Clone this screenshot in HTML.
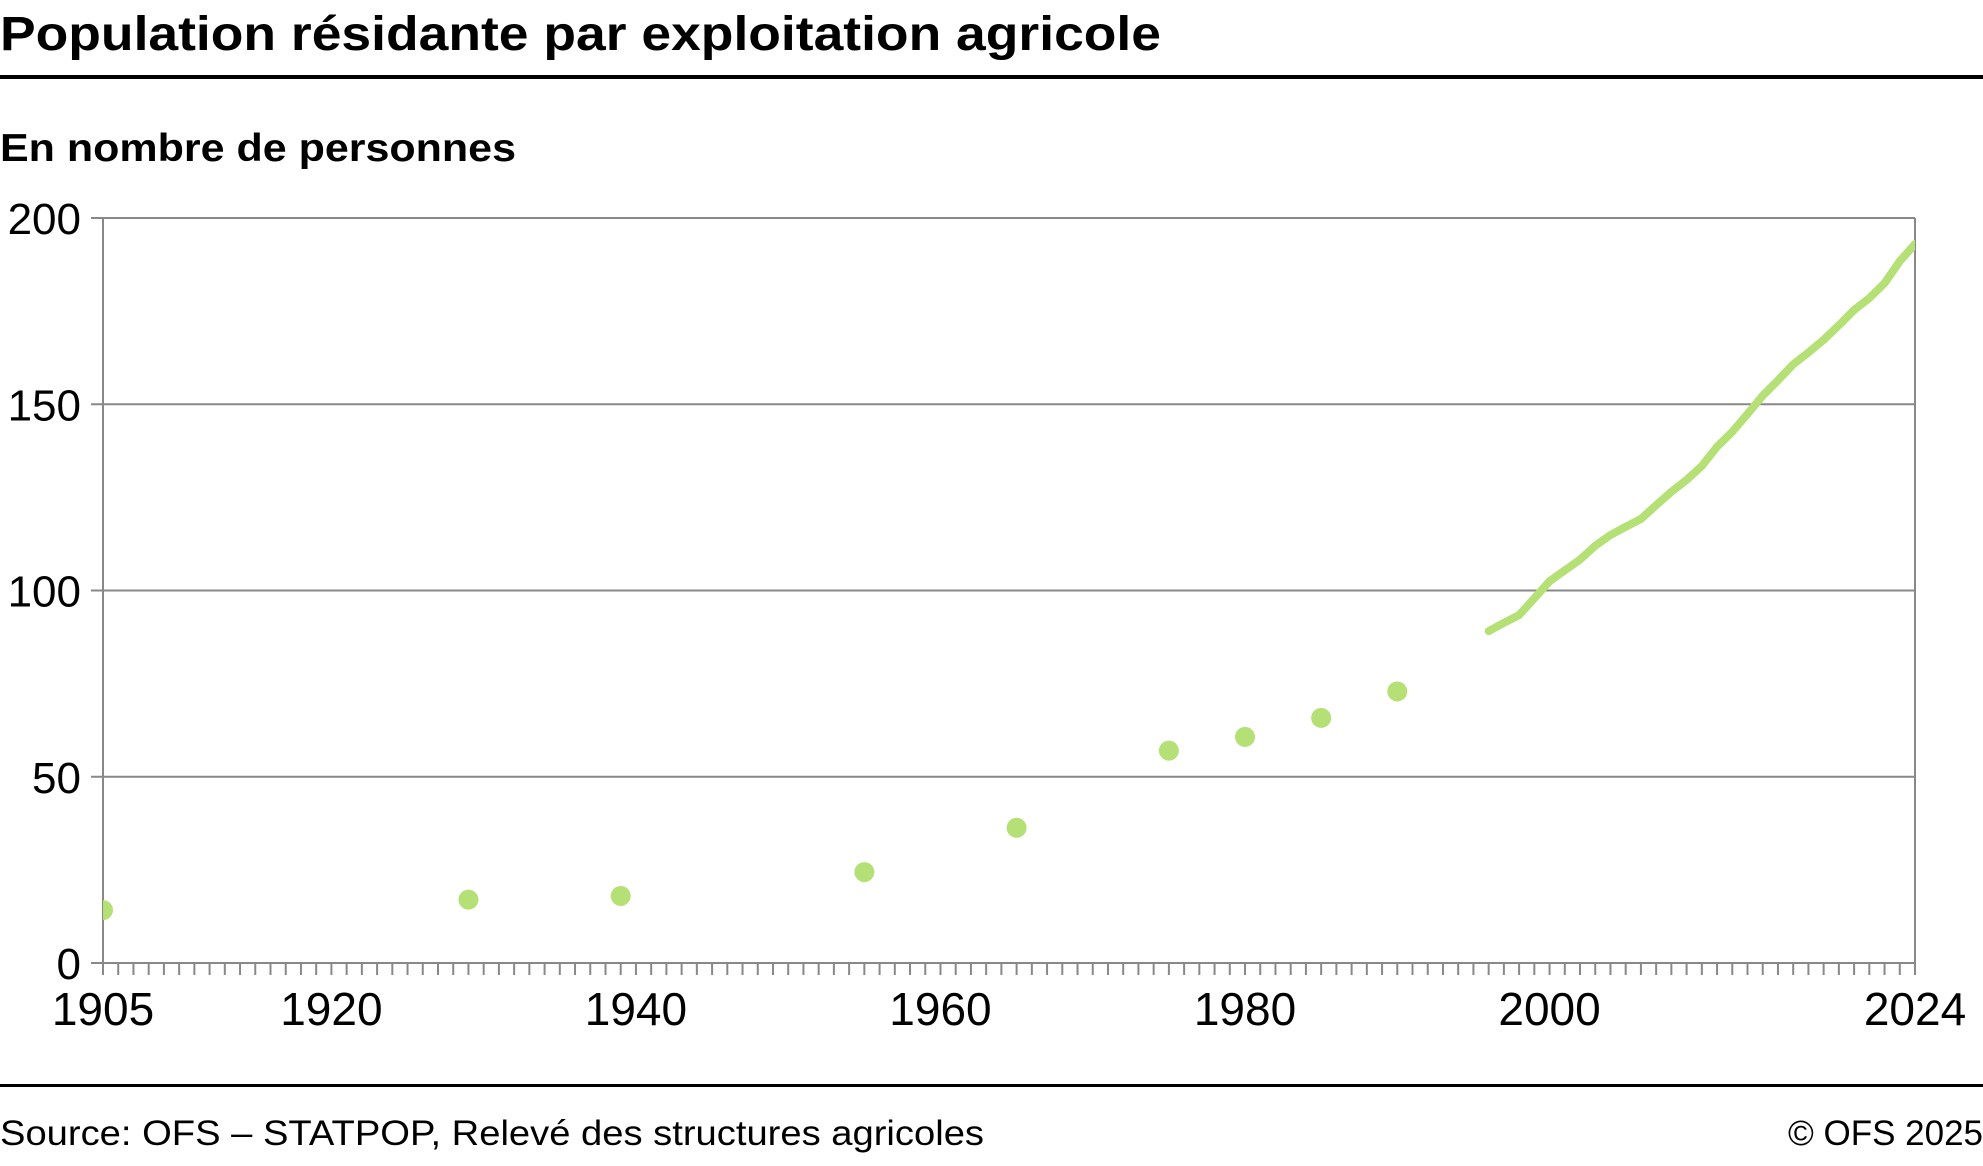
<!DOCTYPE html>
<html><head><meta charset="utf-8"><style>
body{margin:0;background:#fff;width:1983px;height:1161px;overflow:hidden;font-family:"Liberation Sans",sans-serif}
</style></head><body>
<svg id="c" width="1983" height="1161" xmlns="http://www.w3.org/2000/svg">
<text x="0" y="50" font-size="48" font-weight="bold" textLength="1161" lengthAdjust="spacingAndGlyphs" font-family="Liberation Sans, sans-serif">Population résidante par exploitation agricole</text>
<rect x="0" y="75" width="1983" height="4" fill="#000"/>
<text x="0" y="161" font-size="39" font-weight="bold" textLength="516" lengthAdjust="spacingAndGlyphs" font-family="Liberation Sans, sans-serif">En nombre de personnes</text>
<g id="grid"></g><g id="axes"></g><g id="marks"></g>
<rect x="0" y="1084" width="1983" height="3" fill="#000"/>
<text x="0" y="1145" font-size="35" textLength="984" lengthAdjust="spacingAndGlyphs" font-family="Liberation Sans, sans-serif">Source: OFS –  STATPOP, Relevé des structures agricoles</text>
<text x="1983" y="1145" text-anchor="end" font-size="35" font-family="Liberation Sans, sans-serif">© OFS 2025</text>
</svg>
<script>
const dotYears=[1905,1929,1939,1955,1965,1975,1980,1985,1990];
const dotValues=[14.2,17,18,24.4,36.3,57,60.7,65.8,72.9];
const lineYears=[1996,1997,1998,1999,2000,2001,2002,2003,2004,2005,2006,2007,2008,2009,2010,2011,2012,2013,2014,2015,2016,2017,2018,2019,2020,2021,2022,2023,2024];
const lineValues=[89.1,91.3,93.4,97.9,102.5,105.4,108.3,112,114.9,117.1,119.2,122.9,126.5,129.7,133.4,138.6,142.6,147.4,152.3,156.4,160.7,163.9,167.3,171.2,175.3,178.5,182.5,188.4,193];
const yTicks=[0,50,100,150,200];
const xLabels=[1905,1920,1940,1960,1980,2000,2024];
const X0=103,X1=1915,Y0=963,Y1=218,YMIN=1905,YMAX=2024;
const xs=y=>X0+(y-YMIN)/(YMAX-YMIN)*(X1-X0);
const ys=v=>Y0-v/200*(Y0-Y1);
const NS='http://www.w3.org/2000/svg';
function mk(t,a,p){const e=document.createElementNS(NS,t);for(const k in a)e.setAttribute(k,a[k]);p.appendChild(e);return e;}
const grid=document.getElementById('grid'),axes=document.getElementById('axes'),marks=document.getElementById('marks');
yTicks.forEach(v=>{
 const l=mk('line',{x1:X0-12,x2:X1,y1:ys(v),y2:ys(v),stroke:'#888','stroke-width':2},grid);
 
 
 const t=mk('text',{x:X0-22,y:ys(v)+16,'text-anchor':'end','font-size':44,'font-family':'Liberation Sans, sans-serif'},axes);
 t.textContent=v;
 
 
});
const ax=mk('line',{x1:X0,x2:X0,y1:Y1,y2:Y0+12,stroke:'#888','stroke-width':2},axes);


const ax2=mk('line',{x1:X1,x2:X1,y1:Y1,y2:Y0+12,stroke:'#888','stroke-width':2},axes);


for(let y=YMIN;y<=YMAX;y++){
 const t=mk('line',{x1:xs(y),x2:xs(y),y1:Y0,y2:Y0+12,stroke:'#888','stroke-width':2},axes);
 
 
}
xLabels.forEach(y=>{
 const t=mk('text',{x:xs(y),y:Y0+62,'text-anchor':'middle','font-size':46,'font-family':'Liberation Sans, sans-serif'},axes);
 t.textContent=y;
 
 
});
const clip=mk('clipPath',{id:'pc'},marks);mk('rect',{x:X0,y:Y1-20,width:X1-X0,height:Y0-Y1+40},clip);
dotYears.forEach((y,i)=>{
 const c=mk('circle',{cx:xs(y),cy:ys(dotValues[i]),r:10,fill:'#b5e075','clip-path':'url(#pc)'},marks);
 
 
});
const p=mk('polyline',{points:lineYears.map((y,i)=>xs(y)+','+ys(lineValues[i])).join(' '),fill:'none',stroke:'#b5e075','stroke-width':8,'stroke-linejoin':'round','stroke-linecap':'round','clip-path':'url(#pc)'},marks);


</script>
</body></html>
